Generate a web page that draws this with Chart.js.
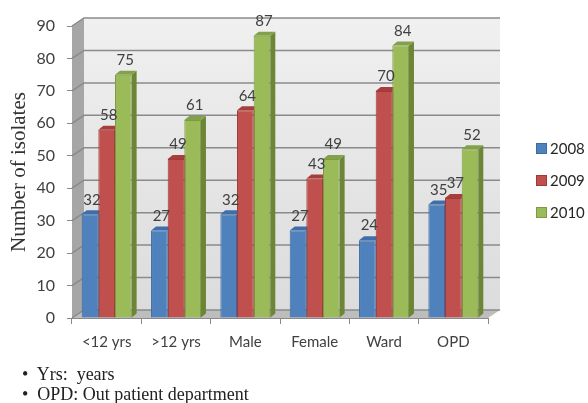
<!DOCTYPE html>
<html>
<head>
<meta charset="utf-8">
<script src="https://cdn.jsdelivr.net/npm/chart.js@4/dist/chart.umd.min.js"></script>
<style>
  body { margin: 0; background: #fff; }
  #wrap { position: relative; width: 588px; height: 403px; }
  .note { position: absolute; left: 22px; font-family: "Liberation Serif", serif; font-size: 18px; color: #222; white-space: pre; }
</style>
</head>
<body>
<div id="wrap">
  <canvas id="myChart" width="588" height="403"></canvas>
  <div class="note" style="top:364px">•  Yrs:  years</div>
  <div class="note" style="top:384px">•  OPD: Out patient department</div>
</div>
<script>
const categories = ['<12 yrs', '>12 yrs', 'Male', 'Female', 'Ward', 'OPD'];
const years = ['2008', '2009', '2010'];
const values2008 = [32, 27, 32, 27, 24, 35];
const values2009 = [58, 49, 64, 43, 70, 37];
const values2010 = [75, 61, 87, 49, 84, 52];

const fronts = ['#4f81bd', '#c0504d', '#9bbb59'];
const borders = ['#3c6aa3', '#9e3a37', '#7d9a43'];
const sides = ['#35608f', '#8e2e2b', '#6b8635'];
const tops = ['#3f6ea8', '#a83e3b', '#82a24a'];

const D = {x: 12, y: -8};  // depth of walls
const B = {x: 5, y: -4};   // depth of a bar

function poly(ctx, pts, fill) {
  ctx.beginPath();
  ctx.moveTo(pts[0][0], pts[0][1]);
  for (let i = 1; i < pts.length; i++) ctx.lineTo(pts[i][0], pts[i][1]);
  ctx.closePath();
  ctx.fillStyle = fill;
  ctx.fill();
}

const box3d = {
  id: 'box3d',
  beforeDatasetsDraw(chart) {
    const {ctx, chartArea: a, scales: {y}} = chart;
    ctx.save();
    let g = ctx.createLinearGradient(0, a.top + D.y, 0, a.bottom + D.y);
    g.addColorStop(0, '#f0f0f0');
    g.addColorStop(1, '#dcdcdc');
    ctx.fillStyle = g;
    ctx.fillRect(a.left + D.x, a.top + D.y, a.right - a.left, a.bottom - a.top);
    poly(ctx, [[a.left, a.top], [a.left + D.x, a.top + D.y], [a.left + D.x, a.bottom + D.y], [a.left, a.bottom]], '#a6a6a6');
    poly(ctx, [[a.left, a.bottom], [a.right, a.bottom], [a.right + D.x, a.bottom + D.y], [a.left + D.x, a.bottom + D.y]], '#bdbdbd');

    ctx.strokeStyle = '#8a8a8a';
    ctx.lineWidth = 1.5;
    y.ticks.forEach(t => {
      const py = y.getPixelForValue(t.value);
      ctx.beginPath();
      ctx.moveTo(a.left, py);
      ctx.lineTo(a.left + D.x, py + D.y);
      ctx.lineTo(a.right + D.x, py + D.y);
      ctx.stroke();
    });

    chart.data.datasets.forEach((ds, i) => {
      chart.getDatasetMeta(i).data.forEach(bar => {
        const l = bar.x - bar.width / 2, r = bar.x + bar.width / 2;
        poly(ctx, [[r, bar.y], [r + B.x, bar.y + B.y], [r + B.x, bar.base + B.y], [r, bar.base]], sides[i]);
        poly(ctx, [[l, bar.y], [l + B.x, bar.y + B.y], [r + B.x, bar.y + B.y], [r, bar.y]], tops[i]);
      });
    });
    ctx.restore();
  },
  afterDatasetsDraw(chart) {
    const ctx = chart.ctx;
    ctx.save();
    ctx.font = '15px Lato';
    ctx.fillStyle = '#404040';
    ctx.textAlign = 'center';
    ctx.textBaseline = 'bottom';
    chart.data.datasets.forEach((ds, i) => {
      chart.getDatasetMeta(i).data.forEach((bar, j) => {
        ctx.fillText(ds.data[j], bar.x + 2, bar.y - 7);
      });
    });

    // legend
    ctx.font = '15px Lato';
    ctx.textAlign = 'left';
    ctx.textBaseline = 'middle';
    chart.data.datasets.forEach((ds, i) => {
      const ly = 148 + i * 32;
      ctx.fillStyle = fronts[i];
      ctx.fillRect(536, ly - 5, 11, 11);
      ctx.strokeStyle = borders[i];
      ctx.lineWidth = 1;
      ctx.strokeRect(536.5, ly - 4.5, 10, 10);
      ctx.fillStyle = '#262626';
      ctx.fillText(ds.label, 550, ly + 1);
    });
    ctx.restore();
  }
};

const ctx = document.getElementById('myChart').getContext('2d');
const myChart = new Chart(ctx, {
  type: 'bar',
  data: {
    labels: categories,
    datasets: [
      {label: years[0], data: values2008},
      {label: years[1], data: values2009},
      {label: years[2], data: values2010}
    ].map((ds, i) => Object.assign(ds, {
      backgroundColor: fronts[i],
      borderColor: borders[i],
      borderWidth: 1,
      categoryPercentage: 0.72,
      barPercentage: 1
    }))
  },
  options: {
    responsive: false,
    animation: false,
    layout: {padding: {top: 26, right: 100, left: 0, bottom: 0}},
    plugins: {legend: {display: false}, tooltip: {enabled: false}},
    scales: {
      x: {
        afterFit: s => { s.height = 85; },
        grid: {drawOnChartArea: false, drawTicks: true, tickLength: 6, color: '#8a8a8a'},
        border: {display: true, color: '#8a8a8a'},
        ticks: {font: {family: 'Lato', size: 15}, color: '#404040', padding: 9}
      },
      y: {
        min: 0,
        max: 90,
        afterFit: s => { s.width = 72; },
        grid: {drawOnChartArea: false, drawTicks: true, tickLength: 5, color: '#8a8a8a'},
        border: {display: true, color: '#8a8a8a'},
        ticks: {stepSize: 10, font: {family: 'Lato', size: 16}, color: '#404040', padding: 12},
        title: {
          display: true,
          text: 'Number of isolates',
          font: {family: 'Liberation Serif', size: 21},
          color: '#333',
          padding: {top: 7, bottom: 0}
        }
      }
    }
  },
  plugins: [box3d]
});
</script>
</body>
</html>
